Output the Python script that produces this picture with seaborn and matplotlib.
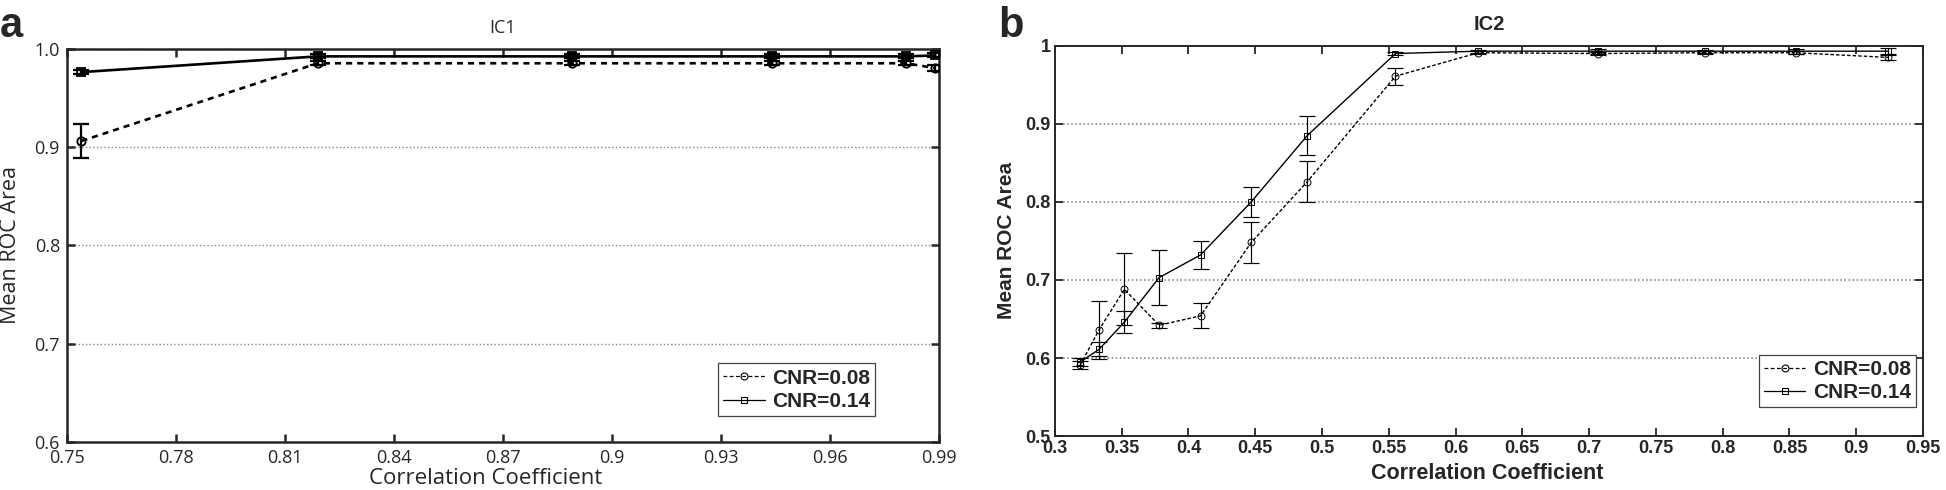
import numpy as np
import pandas as pd
import seaborn as sns
import matplotlib.pyplot as plt
from matplotlib.lines import Line2D

# panel a - IC1
ic1_corr = [0.754, 0.819, 0.889, 0.944, 0.981, 0.989]
ic1_cnr008 = [0.906, 0.985, 0.985, 0.985, 0.985, 0.980]
ic1_cnr008_err = [0.017, 0.002, 0.002, 0.002, 0.002, 0.003]
ic1_cnr014 = [0.976, 0.992, 0.992, 0.992, 0.992, 0.993]
ic1_cnr014_err = [0.002, 0.002, 0.002, 0.002, 0.002, 0.002]
ic1_xticks = [0.75, 0.78, 0.81, 0.84, 0.87, 0.90, 0.93, 0.96, 0.99]
ic1_xlabels = ['0.75', '0.78', '0.81', '0.84', '0.87', '0.9', '0.93', '0.96', '0.99']
ic1_yticks = [0.6, 0.7, 0.8, 0.9, 1.0]
ic1_ylabels = ['0.6', '0.7', '0.8', '0.9', '1.0']

# panel b - IC2
ic2_corr = [0.319, 0.333, 0.352, 0.378, 0.409, 0.447, 0.489, 0.555, 0.617, 0.707, 0.787, 0.855, 0.924]
ic2_cnr008 = [0.591, 0.636, 0.688, 0.642, 0.654, 0.748, 0.826, 0.961, 0.991, 0.990, 0.991, 0.991, 0.985]
ic2_cnr008_err = [0.005, 0.037, 0.046, 0.003, 0.016, 0.026, 0.026, 0.011, 0.002, 0.002, 0.002, 0.002, 0.003]
ic2_cnr014 = [0.595, 0.611, 0.646, 0.703, 0.732, 0.800, 0.885, 0.990, 0.993, 0.993, 0.993, 0.993, 0.993]
ic2_cnr014_err = [0.005, 0.009, 0.014, 0.035, 0.018, 0.019, 0.025, 0.002, 0.002, 0.003, 0.002, 0.003, 0.004]
ic2_xticks = [0.3, 0.35, 0.4, 0.45, 0.5, 0.55, 0.6, 0.65, 0.7, 0.75, 0.8, 0.85, 0.9, 0.95]
ic2_xlabels = ['0.3', '0.35', '0.4', '0.45', '0.5', '0.55', '0.6', '0.65', '0.7', '0.75', '0.8', '0.85', '0.9', '0.95']
ic2_yticks = [0.5, 0.6, 0.7, 0.8, 0.9, 1.0]
ic2_ylabels = ['0.5', '0.6', '0.7', '0.8', '0.9', '1']

series_names = ['CNR=0.08', 'CNR=0.14']

sns.set_style('ticks')
plt.rcParams['font.family'] = ['Open Sans', 'DejaVu Sans']
bold = ['Liberation Sans', 'DejaVu Sans']

fig = plt.figure(figsize=(19.46, 4.9), dpi=100)
ax1 = fig.add_axes([0.0344, 0.098, 0.4481, 0.803])
ax2 = fig.add_axes([0.5421, 0.110, 0.4461, 0.7967])


def draw_panel(ax, x, y08, e08, y14, e14, lw, ms, cap, dash):
    df = pd.DataFrame({'x': x, 'y08': y08, 'y14': y14})
    sns.lineplot(data=df, x='x', y='y08', ax=ax, color='black', lw=lw,
                 linestyle=(0, dash), marker='o', markersize=ms,
                 markerfacecolor='none', markeredgecolor='black',
                 markeredgewidth=lw * 0.7, sort=False, zorder=3)
    sns.lineplot(data=df, x='x', y='y14', ax=ax, color='black', lw=lw,
                 linestyle='-', marker='s', markersize=ms,
                 markerfacecolor='none', markeredgecolor='black',
                 markeredgewidth=lw * 0.7, sort=False, zorder=3)
    ax.errorbar(x, y08, yerr=e08, fmt='none', ecolor='black',
                elinewidth=lw * 0.85, capsize=cap, capthick=lw * 0.85, zorder=3)
    ax.errorbar(x, y14, yerr=e14, fmt='none', ecolor='black',
                elinewidth=lw * 0.85, capsize=cap, capthick=lw * 0.85, zorder=3)


draw_panel(ax1, ic1_corr, ic1_cnr008, ic1_cnr008_err, ic1_cnr014, ic1_cnr014_err,
           lw=1.9, ms=6, cap=6, dash=(2.3, 1.9))
draw_panel(ax2, ic2_corr, ic2_cnr008, ic2_cnr008_err, ic2_cnr014, ic2_cnr014_err,
           lw=1.0, ms=5, cap=5.5, dash=(2.5, 1.5))

# panel a styling
ax1.set_xlim(0.75, 0.99)
ax1.set_ylim(0.6, 1.0)
ax1.set_xticks(ic1_xticks, ic1_xlabels)
ax1.set_yticks(ic1_yticks, ic1_ylabels)
ax1.tick_params(direction='in', top=True, right=True, length=6, width=1.8,
                labelsize=13, pad=5)
for s in ax1.spines.values():
    s.set_linewidth(1.8)
ax1.yaxis.grid(True, linestyle=':', color='#888888', lw=1)
ax1.set_axisbelow(True)
ax1.set_title('IC1', fontsize=13, pad=11)
ax1.set_xlabel('Correlation Coefficient', fontsize=16)
ax1.set_ylabel('Mean ROC Area', fontsize=15.5)
ax1.xaxis.set_label_coords(0.48, -0.066)
ax1.yaxis.set_label_coords(-0.053, 0.5)

# panel b styling
ax2.set_xlim(0.3, 0.95)
ax2.set_ylim(0.5, 1.0)
ax2.set_xticks(ic2_xticks, ic2_xlabels)
ax2.set_yticks(ic2_yticks, ic2_ylabels)
ax2.tick_params(direction='in', top=True, right=True, length=6, width=1.3,
                labelsize=13, pad=3)
for lab in ax2.get_xticklabels() + ax2.get_yticklabels():
    lab.set_family(bold)
    lab.set_fontweight('bold')
for s in ax2.spines.values():
    s.set_linewidth(1.4)
ax2.yaxis.grid(True, linestyle=':', color='#777777', lw=1.1)
ax2.set_axisbelow(True)
ax2.set_title('IC2', fontsize=14.5, fontweight='bold', family=bold, pad=11)
ax2.set_xlabel('Correlation Coefficient', fontsize=15.5, fontweight='bold', family=bold)
ax2.set_ylabel('Mean ROC Area', fontsize=15, fontweight='bold', family=bold)
ax2.xaxis.set_label_coords(0.498, -0.068)
ax2.yaxis.set_label_coords(-0.045, 0.5)

# legends
handles = [
    Line2D([], [], color='black', lw=0.9, linestyle=(0, (3, 2)), marker='o',
           markersize=5, markerfacecolor='none', markeredgecolor='black', markeredgewidth=0.8),
    Line2D([], [], color='black', lw=0.9, linestyle='-', marker='s',
           markersize=5, markerfacecolor='none', markeredgecolor='black', markeredgewidth=0.8),
]
for ax, anchor in [(ax1, (0.927, 0.066)), (ax2, (0.992, 0.074))]:
    leg = ax.legend(handles, series_names, loc='lower right', bbox_to_anchor=anchor,
                    prop={'family': bold, 'weight': 'bold', 'size': 15},
                    frameon=True, fancybox=False, framealpha=1, edgecolor='#444444',
                    handlelength=2.0, handletextpad=0.35, borderpad=0.25,
                    labelspacing=0.2, borderaxespad=0)
    leg.get_frame().set_linewidth(0.9)

fig.text(0.0, 1 - 37 / 490, 'a', fontsize=30, fontweight='bold', family=bold, va='baseline')
fig.text(998 / 1946, 1 - 37 / 490, 'b', fontsize=30, fontweight='bold', family=bold, va='baseline')

fig.savefig('out.png', dpi=100)
